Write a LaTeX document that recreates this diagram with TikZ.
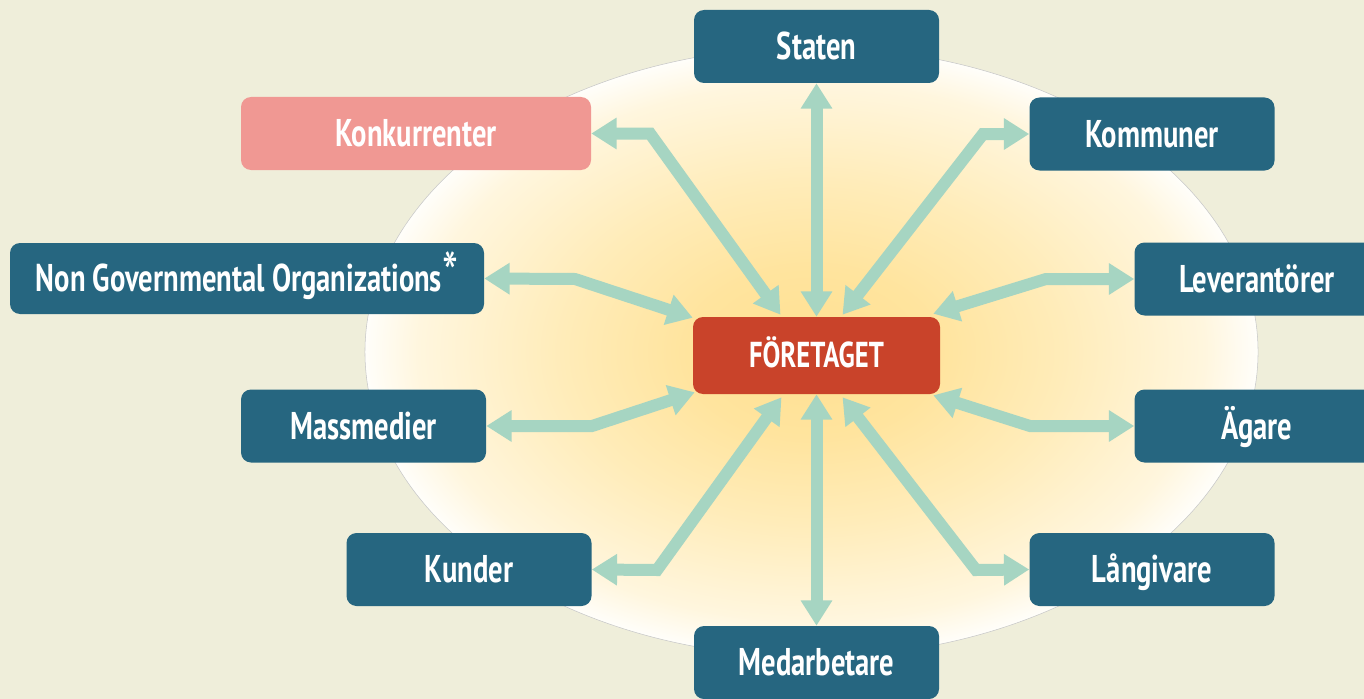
\documentclass[tikz,border=0pt]{standalone}
\usepackage{fontspec}
\newfontfamily\lblfont{PT Sans}[FakeStretch=0.74]
\usetikzlibrary{arrows.meta,calc}
\definecolor{bg}{RGB}{239,238,218}
\definecolor{boxblue}{RGB}{38,102,128}
\definecolor{pinkbox}{RGB}{240,152,147}
\definecolor{redbox}{RGB}{201,67,42}
\definecolor{mint}{RGB}{166,213,194}
\definecolor{glowA}{RGB}{255,224,145}
\definecolor{glowB}{RGB}{255,228,158}
\definecolor{glowC}{RGB}{255,236,185}
\definecolor{glowD}{RGB}{255,246,222}
\definecolor{glowE}{RGB}{255,254,250}
\pgfdeclareradialshading{glow}{\pgfpoint{0bp}{0bp}}{color(0bp)=(glowA); color(7bp)=(glowB); color(14bp)=(glowC); color(22bp)=(glowD); color(25bp)=(glowE); color(50bp)=(glowE)}
\tikzset{
  box/.style={rounded corners=7.5pt, fill=boxblue, text=white,
    font=\lblfont\bfseries\fontsize{29}{32}\selectfont,
    text height=20pt, text depth=0pt,
    minimum width=183.75pt, minimum height=54.75pt, inner sep=0pt},
  arr/.style={draw=mint, line width=9pt,
    {Triangle[length=19pt,width=22.5pt]}-{Triangle[length=19pt,width=22.5pt]}}
}
\begin{document}
\begin{tikzpicture}[x=0.75pt,y=-0.75pt]
\useasboundingbox (0,0) rectangle (1364,699);
\clip (0,0) rectangle (1364,699);
\fill[bg] (0,0) rectangle (1364,699);
\shade[shading=glow, draw=black!22, line width=0.4pt] (811.5,352) ellipse [x radius=334.9pt, y radius=228.75pt];

% nodes
\node[box] (staten) at (816.5,46.5) {Staten};
\node[box, fill=pinkbox, minimum width=262.5pt] (konk) at (416,133.5) {Konkurrenter};
\node[box] (komm) at (1152,134) {Kommuner};
\node[box, minimum width=355.5pt, minimum height=53.25pt] (ngo) at (247,278.5) {Non Governmental Organizations\raisebox{-3pt}{\mdseries\fontsize{46}{46}\selectfont*}};
\node[box] (lev) at (1257,279) {Leverantörer};
\node[box, fill=redbox, minimum width=185.25pt, minimum height=57.75pt, text height=18.5pt, font=\lblfont\bfseries\fontsize{27}{30}\selectfont] (fo) at (816.5,355.5) {FÖRETAGET};
\node[box] (mass) at (363.5,426) {Massmedier};
\node[box] (agare) at (1257,426) {Ägare};
\node[box] (kund) at (469,569.5) {Kunder};
\node[box] (lang) at (1152,569.5) {Långivare};
\node[box] (med) at (816.5,662.5) {Medarbetare};

% bend points
\coordinate (bKonk) at (650,133.5);
\coordinate (bKomm) at (983,134);
\coordinate (bNgo) at (575,279);
\coordinate (bLev) at (1046,279);
\coordinate (bMass) at (592,426);
\coordinate (bAgare) at (1030,426);
\coordinate (bKund) at (657,570);
\coordinate (bLang) at (976,570);

% connectors
\draw[arr] (staten.south) -- (fo.north);
\draw[arr] (med.north) -- (fo.south);
\draw[arr] (konk.east) -- (bKonk) -- ($(fo.north)+(-36,-2)$);
\draw[arr] (komm.west) -- (bKomm) -- ($(fo.north)+(26,-2)$);
\draw[arr] (ngo.east) -- (bNgo) -- ($(fo.north west)+(0,1)$);
\draw[arr] (lev.west) -- (bLev) -- ($(fo.north east)+(-7,-3)$);
\draw[arr] (mass.east) -- (bMass) -- ($(fo.south west)+(2,-2)$);
\draw[arr] (agare.west) -- (bAgare) -- ($(fo.south east)+(-7,1)$);
\draw[arr] (kund.east) -- (bKund) -- ($(fo.south)+(-35,3)$);
\draw[arr] (lang.west) -- (bLang) -- ($(fo.south)+(26,3)$);
\end{tikzpicture}
\end{document}
